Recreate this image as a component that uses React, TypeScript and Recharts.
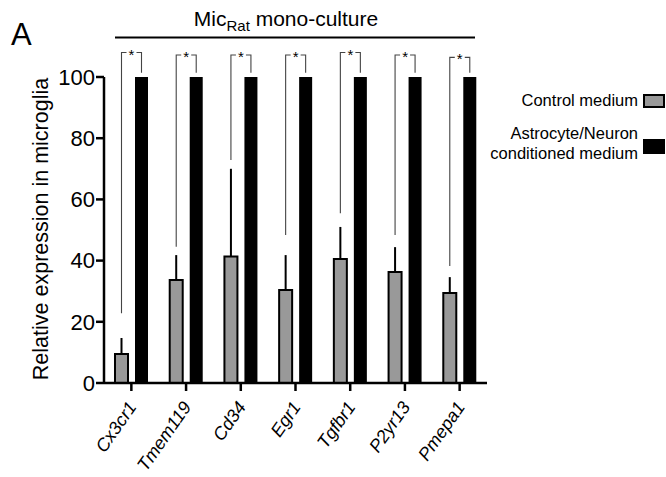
import { BarChart, Bar, XAxis, YAxis, ErrorBar } from 'recharts'

const FONT = '"Liberation Sans", Arial, Helvetica, sans-serif'

const genes = ['Cx3cr1', 'Tmem119', 'Cd34', 'Egr1', 'Tgfbr1', 'P2yr13', 'Pmepa1']
const controlMean = [9.5, 33.7, 41.3, 30.4, 40.5, 36.3, 29.4]
const controlErr = [5.2, 8.1, 28.7, 11.4, 10.5, 8.1, 5.2]
const conditionedMean = [100, 100, 100, 100, 100, 100, 100]
// significance bracket: left leg bottom, bar top, right leg bottom (in y units)
const bracketLow = [22.8, 44.5, 72.9, 48.4, 55.5, 48.4, 38.2]
const bracketTop = [108, 107.2, 107.2, 107.2, 108, 107.2, 106.4]
const bracketEnd = [101.4, 101.4, 101.4, 101.4, 101.4, 101.4, 101.4]
const yTicks = [0, 20, 40, 60, 80, 100]

const seriesNames = ['Control medium', 'Astrocyte/Neuron conditioned medium']

const BAR_SIZE = 13
const BAR_GAP = 7

const data = genes.map((g, i) => ({
  gene: g,
  control: controlMean[i],
  err: [0, controlErr[i]],
  conditioned: conditionedMean[i],
  bracketLow: bracketLow[i],
  bracketTop: bracketTop[i],
  bracketEnd: bracketEnd[i],
}))

const ConditionedBar = (props: any) => {
  const { x, y, width, height, payload, value } = props
  const v = Array.isArray(value) ? value[1] : value
  const base = y + height
  const toY = (d: number) => base - (d * height) / v
  const rightX = x + width / 2
  const leftX = rightX - (BAR_SIZE + BAR_GAP)
  const midX = (leftX + rightX) / 2
  const topY = toY(payload.bracketTop)
  return (
    <g>
      <rect x={x} y={y} width={width} height={height} fill="#000" />
      <path
        d={`M${leftX},${toY(payload.bracketLow)} V${topY} H${midX - 5} M${midX + 5},${topY} H${rightX} V${toY(payload.bracketEnd)}`}
        stroke="#444" strokeWidth={1.1} fill="none"
      />
      <text x={midX} y={topY + 7} textAnchor="middle" fontSize={15} fontFamily={FONT} fill="#000">*</text>
    </g>
  )
}

const GeneTick = (props: any) => {
  const { x, y, payload } = props
  return (
    <g transform={`translate(${x + 6},${y + 14})`}>
      <text
        x={0} y={0} transform="rotate(-55)"
        textAnchor="end"
        fontSize={18} fontStyle="italic" fontFamily={FONT} fill="#000"
      >
        {payload.value}
      </text>
    </g>
  )
}

function ChartLegend() {
  return (
    <div style={{ position: 'absolute', right: 1, top: 91, fontFamily: FONT, fontSize: 16.5, color: '#000', textAlign: 'right' }}>
      <div style={{ display: 'flex', alignItems: 'center', justifyContent: 'flex-end' }}>
        <span>{seriesNames[0]}</span>
        <span style={{ display: 'inline-block', width: 18, height: 10, marginLeft: 5, background: '#999', border: '2px solid #000' }} />
      </div>
      <div style={{ display: 'flex', alignItems: 'center', justifyContent: 'flex-end', marginTop: 13 }}>
        <span style={{ lineHeight: '20px' }}>Astrocyte/Neuron<br />conditioned medium</span>
        <span style={{ display: 'inline-block', width: 22, height: 15, marginLeft: 5, marginTop: 6, background: '#000' }} />
      </div>
    </div>
  )
}

export default function App() {
  return (
    <div style={{ position: 'absolute', left: 0, top: 0, width: 666, height: 477, background: '#fff' }}>
      <svg width={666} height={477} style={{ position: 'absolute', left: 0, top: 0 }}>
        <text x={11} y={45} fontSize={31} fontFamily={FONT} fill="#000">A</text>
        <text x={286} y={26} textAnchor="middle" fontSize={21} fontFamily={FONT} fill="#000">
          Mic<tspan fontSize={15} dy={5}>Rat</tspan><tspan dy={-5}> mono-culture</tspan>
        </text>
        <line x1={115} x2={475} y1={37.5} y2={37.5} stroke="#000" strokeWidth={1.8} />
        <text
          transform="translate(48,229) rotate(-90)" textAnchor="middle"
          fontSize={21.5} fontFamily={FONT} fill="#000"
        >
          Relative expression in microglia
        </text>
      </svg>
      <div style={{ position: 'absolute', left: 0, top: 0 }}>
        <BarChart
          width={666} height={477} data={data}
          margin={{ top: 77, right: 179, bottom: 0, left: 0 }}
          barSize={BAR_SIZE} barGap={BAR_GAP}
        >
          <XAxis
            dataKey="gene" interval={0} tick={<GeneTick />}
            axisLine={{ stroke: '#000', strokeWidth: 2.5 }}
            tickLine={{ stroke: '#000', strokeWidth: 2.5 }} tickSize={8} height={94}
          />
          <YAxis
            domain={[0, 100]} ticks={yTicks} width={104}
            axisLine={{ stroke: '#000', strokeWidth: 2.5 }}
            tickLine={{ stroke: '#000', strokeWidth: 2.5 }} tickSize={8} tickMargin={1}
            tick={{ fill: '#000', fontSize: 22, fontFamily: FONT }}
          />
          <Bar dataKey="control" name={seriesNames[0]} fill="#999" stroke="#000" strokeWidth={2} isAnimationActive={false}>
            <ErrorBar dataKey="err" width={0} stroke="#000" strokeWidth={2} direction="y" />
          </Bar>
          <Bar dataKey="conditioned" name={seriesNames[1]} fill="#000" shape={<ConditionedBar />} isAnimationActive={false} />
        </BarChart>
      </div>
      <ChartLegend />
    </div>
  )
}
